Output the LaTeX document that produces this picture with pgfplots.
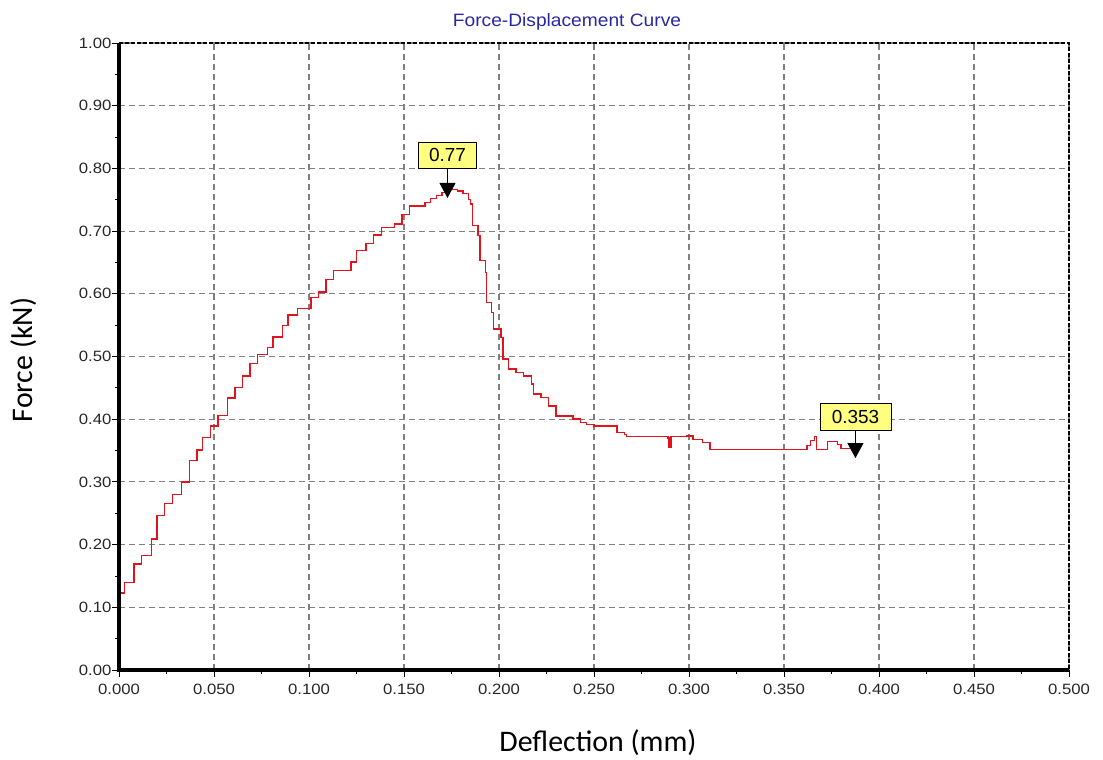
\documentclass[border=0pt]{standalone}
\usepackage{pgfplots}
\pgfplotsset{compat=1.18}
\usepackage{fontspec}
\usetikzlibrary{arrows.meta}
\setmainfont{Liberation Sans}
\newfontfamily\tickfont[FakeStretch=1.12]{Liberation Sans}
\newfontfamily\titlefont[FakeStretch=1.07]{Liberation Sans}
\newfontfamily\labfont{Carlito}
\definecolor{curvered}{RGB}{225,20,30}
\definecolor{titleblue}{RGB}{40,40,165}
\definecolor{tagyellow}{RGB}{255,255,128}
\definecolor{gridgray}{RGB}{128,128,128}

\begin{document}
\begin{tikzpicture}[x=1bp,y=1bp]
\begin{axis}[
    at={(0,0)}, anchor=south west,
    width=950bp, height=627bp, scale only axis,
    xmin=0, xmax=0.5, ymin=0, ymax=1,
    xtick={0,0.05,0.1,0.15,0.2,0.25,0.3,0.35,0.4,0.45,0.5},
    ytick={0,0.1,0.2,0.3,0.4,0.5,0.6,0.7,0.8,0.9,1},
    minor tick num=1,
    xtick pos=bottom, ytick pos=left,
    tick align=outside,
    major tick length=7bp, minor tick length=4bp,
    tick style={black, line width=0.8bp},
    axis line style={draw=none},
    grid=major,
    major grid style={gridgray, line width=1.1bp, dash pattern=on 6bp off 4bp},
    scaled ticks=false,
    xticklabel style={font=\tickfont\fontsize{15}{18}\selectfont, text=black!85, yshift=-4bp,
        /pgf/number format/.cd, fixed, fixed zerofill, precision=3, assume math mode=true},
    yticklabel style={font=\tickfont\fontsize{15}{18}\selectfont, text=black!85, xshift=3bp,
        /pgf/number format/.cd, fixed, fixed zerofill, precision=2, assume math mode=true},
    clip=false,
]
\addplot[const plot, curvered, line width=1.4bp] coordinates {
(0.000,0.123) (0.003,0.140) (0.008,0.169) (0.012,0.183) (0.017,0.209)
(0.020,0.246) (0.024,0.266) (0.028,0.280) (0.033,0.300) (0.037,0.334)
(0.041,0.351) (0.044,0.371) (0.048,0.389) (0.052,0.406) (0.057,0.434)
(0.061,0.451) (0.065,0.469) (0.069,0.489) (0.073,0.503) (0.078,0.514)
(0.081,0.531) (0.086,0.549) (0.089,0.566) (0.094,0.577) (0.101,0.594)
(0.105,0.603) (0.109,0.623) (0.113,0.637) (0.122,0.651) (0.125,0.669)
(0.130,0.680) (0.134,0.694) (0.138,0.706) (0.145,0.711) (0.149,0.726)
(0.153,0.740) (0.161,0.746) (0.164,0.752) (0.167,0.757) (0.170,0.762)
(0.173,0.766) (0.178,0.764) (0.181,0.760) (0.184,0.750) (0.185,0.743)
(0.186,0.709) (0.189,0.693) (0.190,0.653) (0.193,0.634) (0.1935,0.586)
(0.196,0.570) (0.197,0.544) (0.201,0.530) (0.202,0.496) (0.205,0.480)
(0.209,0.474) (0.213,0.469) (0.217,0.456) (0.218,0.440) (0.222,0.435)
(0.226,0.421) (0.230,0.405) (0.239,0.400) (0.243,0.395) (0.246,0.392)
(0.250,0.389) (0.262,0.379) (0.266,0.376) (0.267,0.372) (0.2890,0.370)
(0.2895,0.355) (0.2905,0.372) (0.299,0.373) (0.302,0.368) (0.307,0.363)
(0.311,0.352) (0.360,0.352) (0.362,0.358) (0.364,0.366) (0.366,0.372)
(0.367,0.352) (0.373,0.364) (0.378,0.360) (0.380,0.353) (0.387,0.353)
};
% frame: solid left/bottom, dashed top/right
\draw[black, line width=1.6bp, dash pattern=on 4bp off 2bp]
    (rel axis cs:0,1) -- (rel axis cs:1,1) -- (rel axis cs:1,0);
\draw[black, line width=3.2bp] (rel axis cs:0,1) -- (rel axis cs:0,0) -- (rel axis cs:1,0);
% value tags
\node[draw=black, fill=tagyellow, line width=0.8bp, minimum width=58bp, minimum height=26bp,
      inner sep=0pt, font=\fontsize{19}{22}\selectfont] (tA) at (axis cs:0.1729,0.8214) {0.77};
\draw[black, line width=1bp, -{Triangle[width=16bp,length=15bp]}]
    (tA.south) -- (axis cs:0.1729,0.7528);
\node[draw=black, fill=tagyellow, line width=0.8bp, minimum width=71bp, minimum height=27bp,
      inner sep=0pt, font=\fontsize{19}{22}\selectfont] (tB) at (axis cs:0.3876,0.4043) {0.353};
\draw[black, line width=1bp, -{Triangle[width=16bp,length=15bp]}]
    (tB.south) -- (axis cs:0.3876,0.338);
\end{axis}
\node[font=\titlefont\fontsize{18}{21}\selectfont, text=titleblue] at (448,648) {Force-Displacement Curve};
\node[font=\labfont\fontsize{30}{34}\selectfont] at (479,-73) {Deflection (mm)};
\node[font=\labfont\fontsize{30}{34}\selectfont, rotate=90] at (-95,310) {Force (kN)};
\path (-119,-87) rectangle (984,670);
\end{tikzpicture}
\end{document}
